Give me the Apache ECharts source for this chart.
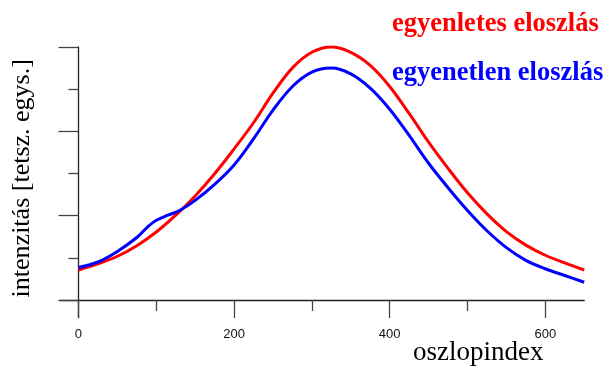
<!DOCTYPE html>
<html>
<head>
<meta charset="utf-8">
<script src="https://cdn.jsdelivr.net/npm/echarts@6/dist/echarts.min.js"></script>
<style>
  html, body { margin: 0; padding: 0; background: #fff; }
  #chart { width: 611px; height: 371px; }
</style>
</head>
<body>
<div id="chart"></div>
<script>
// Column index positions and intensities for the two profiles
const xUniform = [0, 25, 50, 75, 100, 125, 150, 175, 200, 225, 250, 275, 300, 325, 350, 375, 400, 425, 450, 475, 500, 525, 550, 575, 600, 625, 650];
const yUniform = [0.355, 0.427, 0.518, 0.643, 0.805, 1.005, 1.233, 1.495, 1.79, 2.10, 2.45, 2.75, 2.935, 2.998, 2.935, 2.78, 2.53, 2.21, 1.87, 1.56, 1.27, 1.02, 0.81, 0.65, 0.53, 0.44, 0.355];

const xNonUniform = [0, 25, 50, 75, 90, 100, 115, 130, 150, 175, 200, 225, 250, 275, 300, 325, 350, 375, 400, 425, 450, 475, 500, 525, 550, 575, 600, 625, 650];
const yNonUniform = [0.385, 0.450, 0.575, 0.740, 0.875, 0.945, 1.005, 1.06, 1.18, 1.37, 1.60, 1.91, 2.25, 2.53, 2.70, 2.748, 2.68, 2.51, 2.26, 1.95, 1.62, 1.33, 1.06, 0.82, 0.62, 0.47, 0.37, 0.29, 0.21];

const seriesNames = ['egyenletes eloszlás', 'egyenetlen eloszlás'];
const seriesColors = ['#ff0000', '#0000ff'];

const xMajorTicks = [0, 200, 400, 600];
const xMinorTicks = [100, 300, 500];
const yMajorTicks = [0, 1, 2, 3];
const yMinorTicks = [0.5, 1.5, 2.5];

const xAxisTitle = 'oszlopindex';
const yAxisTitle = 'intenzitás [tetsz. egys.]';

const pairs = (xs, ys) => xs.map((x, i) => [x, ys[i]]);

const serif = '"Liberation Serif", "Times New Roman", serif';
const axisColor = '#222';
const tickColor = '#444';
const X_MIN = -24, X_MAX = 650, Y_MIN = -0.21, Y_MAX = 3;

const chart = echarts.init(document.getElementById('chart'), null, { renderer: 'canvas' });

chart.setOption({
  animation: false,
  backgroundColor: '#fff',
  grid: { left: 59.8, right: 26.8, top: 46.8, bottom: 53.3, containLabel: false, outerBoundsMode: 'none' },
  legend: {
    orient: 'vertical',
    left: 382,
    top: 6,
    icon: 'none',
    itemWidth: 0,
    itemHeight: 0,
    itemGap: 22,
    selectedMode: false,
    textStyle: { fontFamily: serif, fontWeight: 'bold', fontSize: 26.5, lineHeight: 26 },
    data: seriesNames.map((n, i) => ({ name: n, textStyle: { color: seriesColors[i] } }))
  },
  xAxis: [
    {
      type: 'value', min: X_MIN, max: X_MAX, position: 'bottom',
      axisLine: { show: true, onZero: true, onZeroAxisIndex: 0, lineStyle: { color: axisColor, width: 1.3 } },
      axisTick: { show: true, inside: false, length: 18, customValues: xMajorTicks, lineStyle: { color: tickColor, width: 1.3 } },
      axisLabel: { show: true, customValues: xMajorTicks, margin: 10, color: '#111', fontSize: 13, fontFamily: '"Liberation Sans", Arial, sans-serif' },
      splitLine: { show: false },
      name: xAxisTitle,
      nameLocation: 'end',
      nameGap: -106,
      nameMoveOverlap: false,
      nameTextStyle: { fontFamily: serif, fontSize: 27, color: '#000', align: 'center', verticalAlign: 'top', lineHeight: 27, padding: [39, 0, 0, 0] }
    },
    {
      type: 'value', min: X_MIN, max: X_MAX, position: 'bottom',
      axisLine: { show: false, onZero: true, onZeroAxisIndex: 0 },
      axisTick: { show: true, inside: false, length: 11, customValues: xMinorTicks, lineStyle: { color: tickColor, width: 1.3 } },
      axisLabel: { show: false },
      splitLine: { show: false }
    }
  ],
  yAxis: [
    {
      type: 'value', min: Y_MIN, max: Y_MAX, position: 'left',
      axisLine: { show: true, onZero: true, onZeroAxisIndex: 0, lineStyle: { color: axisColor, width: 1.3 } },
      axisTick: { show: true, inside: false, length: 20, customValues: yMajorTicks, lineStyle: { color: tickColor, width: 1.3 } },
      axisLabel: { show: false },
      splitLine: { show: false },
      name: yAxisTitle,
      nameLocation: 'middle',
      nameGap: 25,
      nameMoveOverlap: false,
      nameRotate: 90,
      nameTextStyle: { fontFamily: serif, fontSize: 26, color: '#000', padding: [0, 0, 0, 8] }
    },
    {
      type: 'value', min: Y_MIN, max: Y_MAX, position: 'left',
      axisLine: { show: false, onZero: true, onZeroAxisIndex: 0 },
      axisTick: { show: true, inside: false, length: 10, customValues: yMinorTicks, lineStyle: { color: tickColor, width: 1.3 } },
      axisLabel: { show: false },
      splitLine: { show: false }
    }
  ],
  series: [
    {
      name: seriesNames[0], type: 'line', smooth: 0.35, showSymbol: false,
      xAxisIndex: 0, yAxisIndex: 0,
      lineStyle: { color: seriesColors[0], width: 3 }, itemStyle: { color: seriesColors[0] },
      data: pairs(xUniform, yUniform), z: 3
    },
    {
      name: seriesNames[1], type: 'line', smooth: 0.35, showSymbol: false,
      xAxisIndex: 0, yAxisIndex: 0,
      lineStyle: { color: seriesColors[1], width: 3 }, itemStyle: { color: seriesColors[1] },
      data: pairs(xNonUniform, yNonUniform), z: 4
    }
  ]
});
</script>
</body>
</html>
